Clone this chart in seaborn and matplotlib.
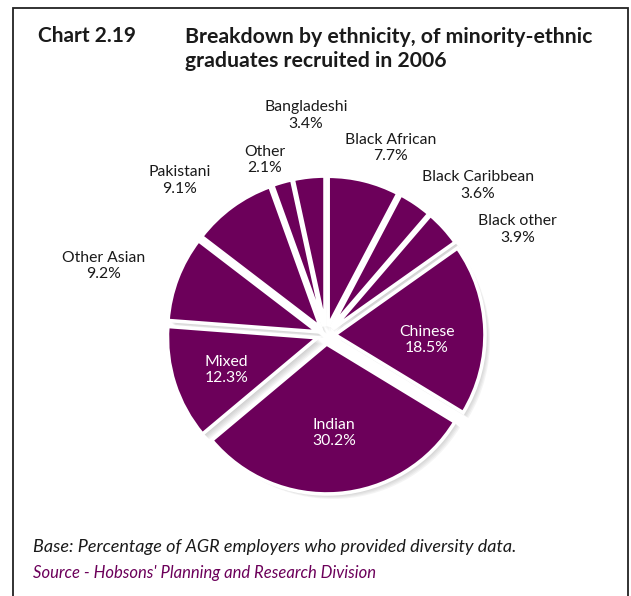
import numpy as np
import matplotlib
matplotlib.use("Agg")
import matplotlib.pyplot as plt
import seaborn as sns

sns.set_theme(style="white")
plt.rcParams["font.family"] = ["Lato", "DejaVu Sans"]

# Share of minority-ethnic graduates recruited in 2006, clockwise from 12 o'clock
groups = ["Black African", "Black Caribbean", "Black other", "Chinese", "Indian",
          "Mixed", "Other Asian", "Pakistani", "Other", "Bangladeshi"]
shares = [7.7, 3.6, 3.9, 18.5, 30.2, 12.3, 9.2, 9.1, 2.1, 3.4]

PURPLE = "#6c005a"
W, H = 631, 596

# label placement: radius (in pie radii) and angular nudge (degrees) per slice
label_r = [1.31, 1.41, 1.45, 0.67, 0.65, 0.70, 1.54, 1.41, 1.23, 1.46]
label_dt = [-5.2, -11.2, -13.5, -4.8, 0.4, 1.7, 3.7, 7.3, 3.2, -0.9]
inside = [False, False, False, True, True, True, False, False, False, False]

fig = plt.figure(figsize=(W / 100, H / 100), dpi=100)
ax = fig.add_axes([0, 0, 1, 1])

cx, cy, R = 326, H - 335, 150
explode = [9.0] * len(shares)

# soft drop shadow under the slices, built from a few faint layers
for off in [6, 5, 4, 3, 2]:
    ax.pie(shares, center=(cx + off, cy - off), radius=R - 1, startangle=90,
           counterclock=False, explode=explode, colors=["#8a8a8a"] * len(shares),
           wedgeprops=dict(edgecolor="none", alpha=0.09), frame=True)
wedges, _ = ax.pie(shares, center=(cx, cy), radius=R, startangle=90, counterclock=False,
                   explode=explode, colors=[PURPLE] * len(shares),
                   wedgeprops=dict(edgecolor="white", linewidth=2.6), frame=True)
ax.set_xlim(0, W)
ax.set_ylim(0, H)
ax.set_aspect("equal")
ax.axis("off")

for w, name, val, r, dt, ins in zip(wedges, groups, shares, label_r, label_dt, inside):
    mid = np.deg2rad((w.theta1 + w.theta2) / 2 + dt)
    x = cx + r * 151 * np.cos(mid)
    y = cy + r * 151 * np.sin(mid)
    ax.text(x, y, f"{name}\n{val:.1f}%", ha="center", va="center", fontsize=11.3,
            color="white" if ins else "#1a1a1a", linespacing=1.2)

# frame around the panel
ax.plot([13, 13, 628, 628], [0, H - 8, H - 8, 0], color="#222222", lw=1.3,
        solid_joinstyle="miter")

fig.text(38 / W, 1 - 36 / H, "Chart 2.19", fontsize=15, fontweight="bold",
         color="#1a1a1a", va="center", ha="left")
fig.text(185 / W, 1 - 49 / H,
         "Breakdown by ethnicity, of minority-ethnic\ngraduates recruited in 2006",
         fontsize=15.3, fontweight="bold", color="#1a1a1a", va="center", ha="left",
         linespacing=1.3)
fig.text(33 / W, 1 - 547 / H, "Base: Percentage of AGR employers who provided diversity data.",
         fontsize=13, fontstyle="italic", color="#1a1a1a", va="center", ha="left")
fig.text(33 / W, 1 - 573 / H, "Source - Hobsons' Planning and Research Division",
         fontsize=12, fontstyle="italic", color=PURPLE, va="center", ha="left")

fig.savefig("out.png", dpi=100)
